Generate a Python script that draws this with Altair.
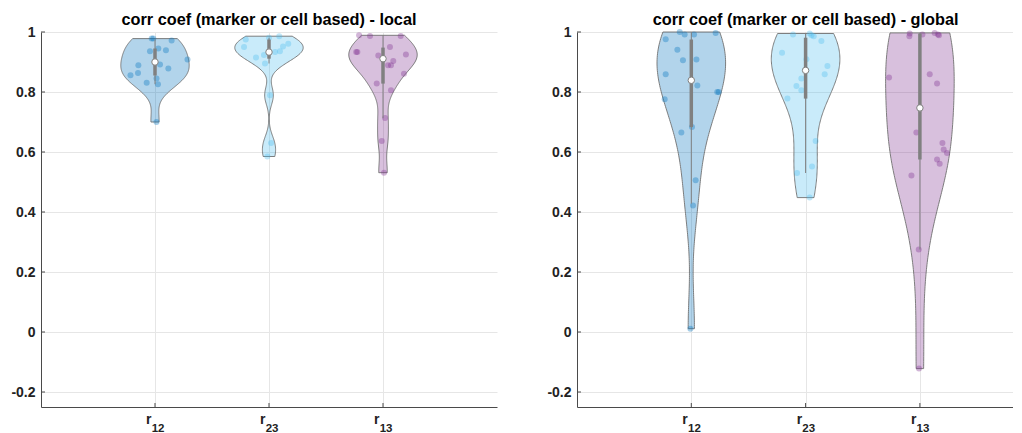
import altair as alt
import numpy as np
import pandas as pd

# ---------------- data ----------------
categories = ["r12", "r23", "r13"]
subscripts = ["12", "23", "13"]
panel_titles = ["corr coef (marker or cell based) - local",
                "corr coef (marker or cell based) - global"]
y_ticks = [-0.2, 0, 0.2, 0.4, 0.6, 0.8, 1]
colors = ["#0072BD", "#4DBEEE", "#7E2F8E"]

# local panel values and horizontal jitter (x units)
local_r12 = [0.978, 0.978, 0.972, 0.945, 0.939, 0.936, 0.908, 0.889, 0.892, 0.878,
             0.856, 0.863, 0.845, 0.831, 0.826, 0.700]
local_r12_jit = [-0.029, -0.015, 0.146, 0.029, 0.096, -0.044, 0.285, -0.146, 0.044, 0.117,
                 -0.215, -0.149, 0.013, -0.073, 0.026, 0.013]
local_r23 = [0.981, 0.986, 0.975, 0.952, 0.961, 0.950, 0.936, 0.933, 0.923, 0.915,
             0.895, 0.789, 0.630, 0.585]
local_r23_jit = [0.0, 0.09, -0.204, 0.123, 0.169, -0.219, 0.096, 0.053, -0.044, -0.114,
                 -0.035, 0.009, 0.018, -0.015]
local_r13 = [0.989, 0.987, 0.987, 0.933, 0.933, 0.950, 0.922, 0.925, 0.903, 0.889,
             0.889, 0.861, 0.828, 0.806, 0.713, 0.637, 0.531]
local_r13_jit = [-0.21, -0.114, 0.155, -0.235, -0.225, 0.061, -0.041, 0.201, 0.09, 0.044,
                 0.07, 0.184, -0.055, 0.07, 0.018, -0.011, 0.009]

# global panel values and jitter
global_r12 = [1.0, 0.992, 0.992, 0.997, 0.976, 0.941, 0.906, 0.908, 0.859, 0.822,
              0.800, 0.800, 0.776, 0.683, 0.665, 0.506, 0.422, 0.011]
global_r12_jit = [-0.101, -0.058, 0.024, 0.213, -0.224, -0.122, -0.073, 0.045, -0.224, 0.053,
                  0.227, 0.24, -0.233, 0.006, -0.087, 0.038, 0.015, -0.008]
global_r23 = [0.992, 0.995, 0.989, 0.986, 0.970, 0.931, 0.909, 0.887, 0.859, 0.845,
              0.820, 0.806, 0.778, 0.637, 0.552, 0.530, 0.448]
global_r23_jit = [-0.11, 0.036, 0.051, 0.071, 0.138, -0.206, 0.007, 0.191, 0.167, -0.037,
                  -0.08, -0.037, -0.159, 0.088, 0.056, -0.075, 0.036]
global_r13 = [0.995, 0.986, 0.992, 0.997, 0.992, 0.989, 0.848, 0.859, 0.828, 0.665,
              0.630, 0.608, 0.597, 0.575, 0.561, 0.522, 0.275, -0.122]
global_r13_jit = [-0.089, -0.092, 0.022, 0.129, 0.158, 0.167, -0.27, 0.086, 0.15, -0.031,
                  0.197, 0.208, 0.237, 0.15, 0.173, -0.074, -0.01, -0.008]

# box statistics (per category)
local_median = [0.900, 0.933, 0.911]
local_q1 = [0.855, 0.911, 0.828]
local_q3 = [0.945, 0.975, 0.948]
local_wlo = [0.826, 0.895, 0.713]
local_whi = [0.975, 0.981, 0.990]

global_median = [0.839, 0.872, 0.747]
global_q1 = [0.683, 0.778, 0.575]
global_q3 = [0.975, 0.981, 0.995]
global_wlo = [0.428, 0.530, 0.275]
global_whi = [1.000, 0.997, 0.997]

VIOLIN_HALF = 0.3
H = 375


def violin_outline(vals, n=140):
    v = np.asarray(vals, dtype=float)
    med = np.median(v)
    sig = np.median(np.abs(v - med)) / 0.6745
    bw = sig * (4.0 / (3.0 * len(v))) ** 0.2
    grid = np.linspace(v.min(), v.max(), n)
    dens = np.exp(-0.5 * ((grid[:, None] - v[None, :]) / bw) ** 2).sum(axis=1)
    return grid, VIOLIN_HALF * dens / dens.max()


def frames(vals_list, jit_list, med, q1, q3, wlo, whi):
    vrows, orows, prows, brows = [], [], [], []
    for i, g in enumerate(categories):
        pos = i + 1
        grid, hw = violin_outline(vals_list[i])
        n = len(grid)
        for k, (yv, h) in enumerate(zip(grid, hw)):
            vrows.append(dict(group=g, value=float(yv), lo=pos - float(h), hi=pos + float(h)))
            orows.append(dict(group=g, value=float(yv), x=pos - float(h), ord=k))
            orows.append(dict(group=g, value=float(yv), x=pos + float(h), ord=2 * n - 1 - k))
        orows.append(dict(group=g, value=float(grid[0]), x=pos - float(hw[0]), ord=2 * n))
        for v, j in zip(vals_list[i], jit_list[i]):
            prows.append(dict(group=g, value=v, x=pos + j))
        brows.append(dict(group=g, pos=pos, med=med[i], q1=q1[i], q3=q3[i],
                          wlo=wlo[i], whi=whi[i], r="r", sub=subscripts[i]))
    return pd.DataFrame(vrows), pd.DataFrame(orows), pd.DataFrame(prows), pd.DataFrame(brows)


FONT = "Liberation Sans"
GRAY = "#808080"
AX = "#4a4a4a"
cscale = alt.Scale(domain=categories, range=colors)


def panel(title, data, width, xmax):
    vdf, odf, pdf, bdf = data
    xs = alt.Scale(domain=[0, xmax], nice=False, zero=False)
    ys = alt.Scale(domain=[-0.25, 1], nice=False, zero=False)
    xax = alt.Axis(values=[1, 2, 3], labels=False, ticks=False, grid=True, title=None)
    yax = alt.Axis(values=y_ticks, ticks=False, grid=True, title=None,
                   labelExpr="datum.value < 0 ? '-' + format(-datum.value, '.1~f') : format(datum.value, '.1~f')")

    violins = alt.Chart(vdf).mark_area(orient="horizontal", fillOpacity=0.3, strokeWidth=0).encode(
        y=alt.Y("value:Q", scale=ys, axis=yax),
        x=alt.X("lo:Q", scale=xs, axis=xax),
        x2="hi:Q",
        fill=alt.Fill("group:N", scale=cscale, legend=None),
    )
    outline = alt.Chart(odf).mark_line(color="#707070", strokeWidth=0.9).encode(
        y=alt.Y("value:Q", scale=ys, axis=yax),
        x=alt.X("x:Q", scale=xs, axis=xax),
        detail="group:N",
        order="ord:Q",
    )
    points = alt.Chart(pdf).mark_circle(size=36, opacity=0.35, strokeWidth=0).encode(
        y=alt.Y("value:Q", scale=ys, axis=yax),
        x=alt.X("x:Q", scale=xs, axis=xax),
        fill=alt.Fill("group:N", scale=cscale, legend=None),
    )
    base = alt.Chart(bdf)
    whisker = base.mark_rule(color=GRAY, strokeWidth=1).encode(
        x=alt.X("pos:Q", scale=xs, axis=xax),
        y=alt.Y("wlo:Q", scale=ys, axis=yax), y2="whi:Q")
    box = base.mark_rule(color=GRAY, strokeWidth=3.5).encode(
        x=alt.X("pos:Q", scale=xs, axis=xax),
        y=alt.Y("q1:Q", scale=ys, axis=yax), y2="q3:Q")
    median = base.mark_point(shape="circle", filled=True, fill="white", stroke=GRAY,
                             strokeWidth=1, size=42, opacity=1).encode(
        x=alt.X("pos:Q", scale=xs, axis=xax),
        y=alt.Y("med:Q", scale=ys, axis=yax))
    yt = alt.Chart(pd.DataFrame({"t": y_ticks})).mark_rule(color=AX, strokeWidth=1).encode(
        y=alt.Y("t:Q", scale=ys, axis=yax), x=alt.value(0), x2=alt.value(4))
    xt = base.mark_rule(color=AX, strokeWidth=1).encode(
        x=alt.X("pos:Q", scale=xs, axis=xax), y=alt.value(H), y2=alt.value(H - 4))
    lab_r = base.mark_text(font=FONT, fontWeight="bold", fontSize=14, align="right",
                           baseline="alphabetic", dx=-3.5, color="#222222").encode(
        x=alt.X("pos:Q", scale=xs, axis=xax), y=alt.value(H + 17.3), text="r:N")
    lab_s = base.mark_text(font=FONT, fontWeight="bold", fontSize=11.5, align="left",
                           baseline="alphabetic", dx=-3.3, color="#222222").encode(
        x=alt.X("pos:Q", scale=xs, axis=xax), y=alt.value(H + 25.3), text="sub:N")
    ttl = alt.Chart(pd.DataFrame({"t": [title]})).mark_text(
        font=FONT, fontWeight="bold", fontSize=16.3, align="center", baseline="alphabetic",
        color="#000000").encode(
        x=alt.datum(2.0, scale=xs), y=alt.value(-6.7), text="t:N")

    return alt.layer(violins, outline, points, whisker, box, median, yt, xt, lab_r, lab_s, ttl).properties(
        width=width, height=H)


local_data = frames([local_r12, local_r23, local_r13],
                    [local_r12_jit, local_r23_jit, local_r13_jit],
                    local_median, local_q1, local_q3, local_wlo, local_whi)
global_data = frames([global_r12, global_r23, global_r13],
                     [global_r12_jit, global_r23_jit, global_r13_jit],
                     global_median, global_q1, global_q3, global_wlo, global_whi)

left = panel(panel_titles[0], local_data, 456, 4.0)
right = panel(panel_titles[1], global_data, 436, 436 / 114.3)

chart = alt.hconcat(left, right, spacing=47).configure(
    padding={"left": 0, "top": 4, "right": 0, "bottom": 0}
).configure_view(stroke=None).configure_axis(
    labelFont=FONT, labelFontWeight="bold", labelFontSize=14, labelColor="#222222",
    labelPadding=6, domainColor=AX, domainWidth=1, gridColor="#e6e6e6", gridWidth=1,
    minExtent=33, maxExtent=33
)

chart.save("out.html", embed_options={"renderer": "svg", "actions": False})
